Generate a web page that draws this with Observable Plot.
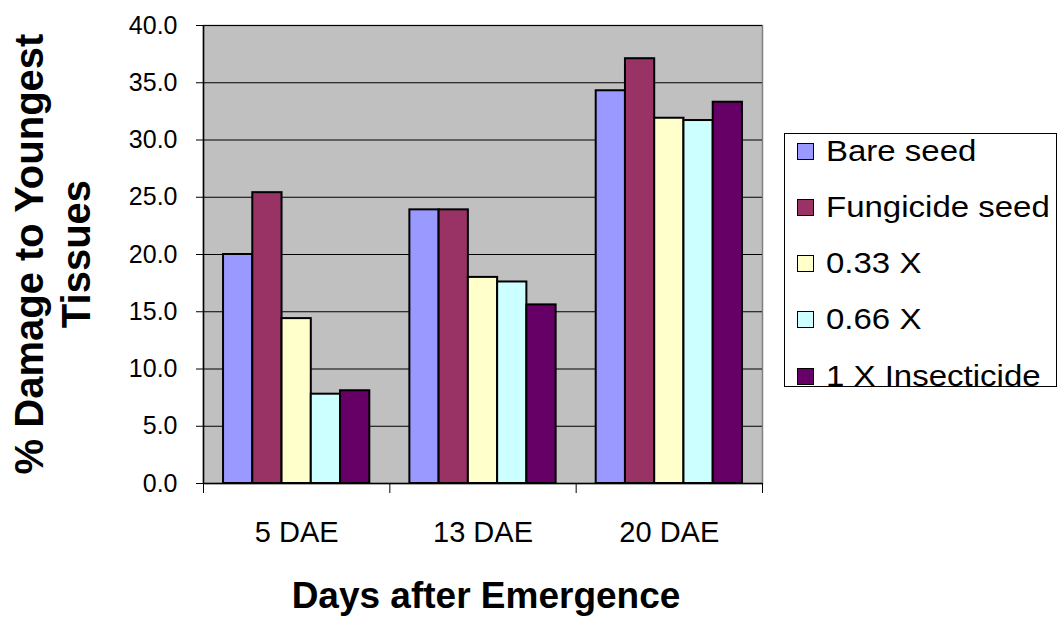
<!DOCTYPE html>
<html><head><meta charset="utf-8">
<script src="https://cdn.jsdelivr.net/npm/d3@7"></script>
<script src="https://cdn.jsdelivr.net/npm/@observablehq/plot@0.6"></script>
<style>
html,body{margin:0;padding:0;background:#fff;}
body{font-family:"Liberation Sans",Arial,sans-serif;}
#wrap{position:relative;width:1061px;height:619px;overflow:hidden;}
#legend{position:absolute;left:784px;top:133px;width:273px;height:254px;border:1.5px solid #000;box-sizing:border-box;background:#fff;}
.item{position:absolute;left:12px;display:flex;align-items:center;height:34px;font-size:30px;color:#000;white-space:nowrap;}
.sw{width:15px;height:15px;border:1.5px solid #000;margin-right:12px;flex:none;}
.lt{display:inline-block;transform:scaleX(1.1);transform-origin:left center;}
</style>
</head><body>
<div id="wrap"></div>
<script>
const categories = ["5 DAE", "13 DAE", "20 DAE"];
const series = ["Bare seed", "Fungicide seed", "0.33 X", "0.66 X", "1 X Insecticide"];
const bareSeed      = [20.0, 23.9, 34.3];
const fungicideSeed = [25.4, 23.9, 37.1];
const x033          = [14.4, 18.0, 31.9];
const x066          = [7.8, 17.6, 31.7];
const x1Insecticide = [8.1, 15.6, 33.3];
const colors = ["#9999FF", "#993366", "#FFFFCC", "#CCFFFF", "#660066"];
const yTicks = [0, 5, 10, 15, 20, 25, 30, 35, 40];

const seriesValues = [bareSeed, fungicideSeed, x033, x066, x1Insecticide];
const data = [];
categories.forEach((c, ci) => series.forEach((s, si) => data.push({cat: c, ci, series: s, si, value: seriesValues[si][ci]})));

const bw = 1 / 6.37;                 // bar width as a fraction of a category slot
const pad = (1 - series.length * bw) / 2;

const chart = Plot.plot({
  width: 1061,
  height: 619,
  marginLeft: 203,
  marginRight: 299,
  marginTop: 25,
  marginBottom: 136,
  style: {fontFamily: '"Liberation Sans", Arial, sans-serif', color: "#000", background: "#fff"},
  x: {domain: [0, categories.length], axis: null},
  y: {domain: [0, 40], axis: null},
  color: {domain: series, range: colors},
  marks: [
    Plot.frame({fill: "#C0C0C0", stroke: "#808080", strokeWidth: 1.5}),
    Plot.ruleY(yTicks, {stroke: "#000", strokeWidth: 1}),
    Plot.rectY(data, {
      x1: d => d.ci + pad + d.si * bw,
      x2: d => d.ci + pad + (d.si + 1) * bw,
      y: "value",
      fill: "series",
      stroke: "#000",
      strokeWidth: 2
    }),
    Plot.ruleX([0], {stroke: "#000", strokeWidth: 1.5}),
    Plot.ruleY([0], {stroke: "#000", strokeWidth: 1.5}),
    Plot.axisY({ticks: yTicks, tickFormat: d3.format(".1f"), tickSize: 7, tickPadding: 19, fontSize: 25, label: null, stroke: "#000"}),
    Plot.axisX({ticks: d3.range(categories.length + 1), tickFormat: () => "", tickSize: 10, label: null, stroke: "#000"}),
    Plot.axisX({ticks: categories.map((c, i) => i + 0.5), tickFormat: d => categories[Math.floor(d)], tickSize: 0, tickPadding: 38, fontSize: 29, label: null})
  ]
});

const svg = d3.select(chart);
svg.append("text")
  .attr("x", 486).attr("y", 608)
  .attr("text-anchor", "middle")
  .attr("font-size", 37).attr("font-weight", "bold").attr("fill", "#000")
  .text("Days after Emergence");
const yt = svg.append("text")
  .attr("transform", "translate(0,254) rotate(-90)")
  .attr("text-anchor", "middle")
  .attr("font-size", 40).attr("font-weight", "bold").attr("fill", "#000");
yt.append("tspan").attr("x", 0).attr("y", 43).text("% Damage to Youngest");
yt.append("tspan").attr("x", 0).attr("y", 90).text("Tissues");

const wrap = document.getElementById("wrap");
wrap.appendChild(chart);

const legend = document.createElement("div");
legend.id = "legend";
const centers = [17, 73, 129, 185, 242];
series.forEach((s, i) => {
  const it = document.createElement("div");
  it.className = "item";
  it.style.top = (centers[i] - 17) + "px";
  const sw = document.createElement("div");
  sw.className = "sw";
  sw.style.background = colors[i];
  const tx = document.createElement("span");
  tx.className = "lt";
  tx.textContent = s;
  it.appendChild(sw);
  it.appendChild(tx);
  legend.appendChild(it);
});
wrap.appendChild(legend);
</script>
</body></html>
